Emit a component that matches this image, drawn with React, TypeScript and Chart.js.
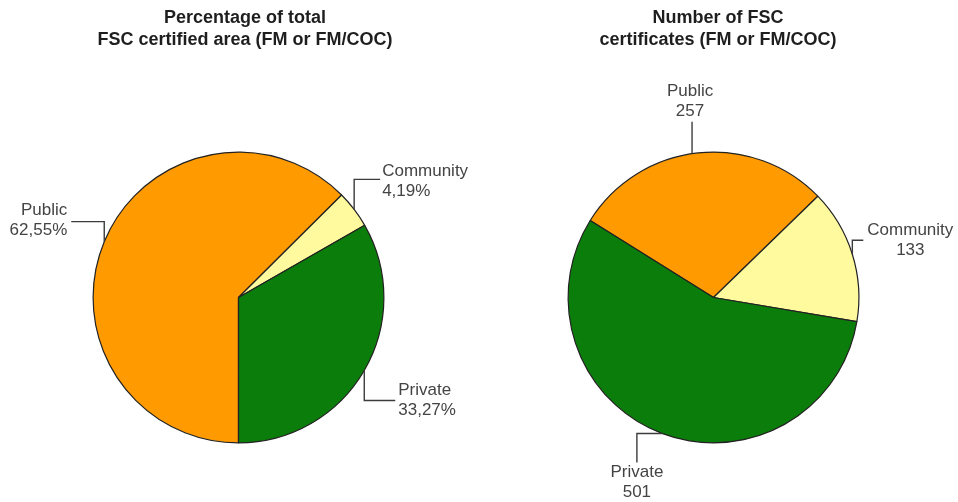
import React, { useEffect, useRef } from 'react';
import { Chart, registerables } from 'chart.js';

Chart.register(...registerables);

// ---- data ----
const categories = ['Public', 'Community', 'Private'];
const areaShares = [62.55, 4.19, 33.27];
const certificateCounts = [257, 133, 501];
const areaTitle = ['Percentage of total', 'FSC certified area (FM or FM/COC)'];
const countTitle = ['Number of FSC', 'certificates (FM or FM/COC)'];

// ---- styles ----
const sliceColors = ['#FF9A00', '#FFFA9E', '#0B7D0B'];
const borderColor = '#222222';
const textColor = '#444444';
const titleColor = '#1e1e1e';
const fontFamily = '"Liberation Sans", Arial, Helvetica, sans-serif';

type LabelSpec = {
  nudge: number; // degrees along the arc from the slice middle
  path: [number, number][];
  align: 'left' | 'right' | 'center' | 'block';
  gap: number;
  vAnchor: 'middle' | 'top' | 'bottom';
  shift: number;
};

type PieLayout = {
  padding: { left: number; right: number; top: number; bottom: number };
  rotation: number;
  titleX: number;
  titleY: number[];
  labels: LabelSpec[];
};

const areaLayout: PieLayout = {
  padding: { left: 92.5, right: 94.5, top: 151.5, bottom: 58.5 },
  rotation: 180,
  titleX: 245,
  titleY: [18, 40],
  labels: [
    { nudge: 0, path: [[0, -20], [-33, 0]], align: 'right', gap: 4, vAnchor: 'middle', shift: -1 },
    { nudge: 0, path: [[0, -30], [26, 0]], align: 'left', gap: 2, vAnchor: 'middle', shift: 2 },
    { nudge: 0, path: [[0, 30], [31, 0]], align: 'left', gap: 3, vAnchor: 'middle', shift: 0 },
  ],
};

const countLayout: PieLayout = {
  padding: { left: 88.5, right: 98.5, top: 151.5, bottom: 58.5 },
  rotation: -58,
  titleX: 239,
  titleY: [18, 40],
  labels: [
    { nudge: -2.4, path: [[0, -32]], align: 'center', gap: -2, vAnchor: 'bottom', shift: 0 },
    { nudge: 0, path: [[0, -14], [11, 0]], align: 'block', gap: 4, vAnchor: 'middle', shift: 0 },
    { nudge: 0, path: [[-25, 0], [0, 29]], align: 'center', gap: 0, vAnchor: 'top', shift: 0 },
  ],
};

const formatPercent = (v: number) => v.toFixed(2).replace('.', ',') + '%';
const formatCount = (v: number) => String(v);

function makeLabelPlugin(title: string[], layout: PieLayout, format: (v: number) => string) {
  return {
    id: 'fscLabels',
    afterDraw(chart: any) {
      const ctx: CanvasRenderingContext2D = chart.ctx;
      ctx.save();
      // titles
      ctx.fillStyle = titleColor;
      ctx.font = `bold 18px ${fontFamily}`;
      ctx.textAlign = 'center';
      ctx.textBaseline = 'middle';
      title.forEach((line, i) => ctx.fillText(line, layout.titleX, layout.titleY[i]));

      // labels with elbow leader lines
      const meta = chart.getDatasetMeta(0);
      const values = chart.data.datasets[0].data as number[];
      const lineH = 20;
      ctx.font = `17px ${fontFamily}`;
      meta.data.forEach((arc: any, i: number) => {
        const spec = layout.labels[i];
        const p = arc.getProps(['x', 'y', 'startAngle', 'endAngle', 'outerRadius'], true);
        const mid = (p.startAngle + p.endAngle) / 2 + (spec.nudge * Math.PI) / 180;
        let cx = p.x + p.outerRadius * Math.cos(mid);
        let cy = p.y + p.outerRadius * Math.sin(mid);
        ctx.strokeStyle = '#3c3c3c';
        ctx.lineWidth = 1.4;
        ctx.beginPath();
        ctx.moveTo(cx, cy);
        spec.path.forEach(([dx, dy]) => {
          cx += dx;
          cy += dy;
          ctx.lineTo(cx, cy);
        });
        ctx.stroke();

        const lines = [categories[i], format(values[i])];
        const n = lines.length;
        let y0: number;
        if (spec.vAnchor === 'middle') y0 = cy + spec.shift - (lineH * (n - 1)) / 2;
        else if (spec.vAnchor === 'top') y0 = cy + spec.shift + lineH / 2;
        else y0 = cy + spec.shift - lineH / 2 - lineH * (n - 1);

        ctx.fillStyle = textColor;
        ctx.textBaseline = 'middle';
        let x: number;
        if (spec.align === 'left') {
          ctx.textAlign = 'left';
          x = cx + spec.gap;
        } else if (spec.align === 'right') {
          ctx.textAlign = 'right';
          x = cx - spec.gap;
        } else if (spec.align === 'center') {
          ctx.textAlign = 'center';
          x = cx + spec.gap;
        } else {
          const maxW = Math.max(...lines.map((l) => ctx.measureText(l).width));
          ctx.textAlign = 'center';
          x = cx + spec.gap + maxW / 2;
        }
        lines.forEach((l, k) => ctx.fillText(l, x, y0 + k * lineH));
      });
      ctx.restore();
    },
  };
}

function PieChart({
  values,
  title,
  layout,
  format,
}: {
  values: number[];
  title: string[];
  layout: PieLayout;
  format: (v: number) => string;
}) {
  const ref = useRef<HTMLCanvasElement>(null);
  useEffect(() => {
    if (!ref.current) return;
    const chart = new Chart(ref.current, {
      type: 'pie',
      data: {
        labels: categories,
        datasets: [
          {
            data: values,
            backgroundColor: sliceColors,
            borderColor: borderColor,
            borderWidth: 1.2,
            hoverOffset: 0,
          },
        ],
      },
      options: {
        responsive: false,
        animation: false,
        rotation: layout.rotation,
        layout: { padding: layout.padding },
        plugins: {
          legend: { display: false },
          tooltip: { enabled: false },
        },
        events: [],
      },
      plugins: [makeLabelPlugin(title, layout, format)],
    } as any);
    return () => chart.destroy();
  }, []);
  return <canvas ref={ref} width={479} height={502} style={{ width: 479, height: 502, display: 'block' }} />;
}

export default function App() {
  return (
    <div
      style={{
        position: 'fixed',
        left: 0,
        top: 0,
        width: 958,
        height: 502,
        display: 'flex',
        background: '#ffffff',
      }}
    >
      <PieChart values={areaShares} title={areaTitle} layout={areaLayout} format={formatPercent} />
      <PieChart values={certificateCounts} title={countTitle} layout={countLayout} format={formatCount} />
    </div>
  );
}
